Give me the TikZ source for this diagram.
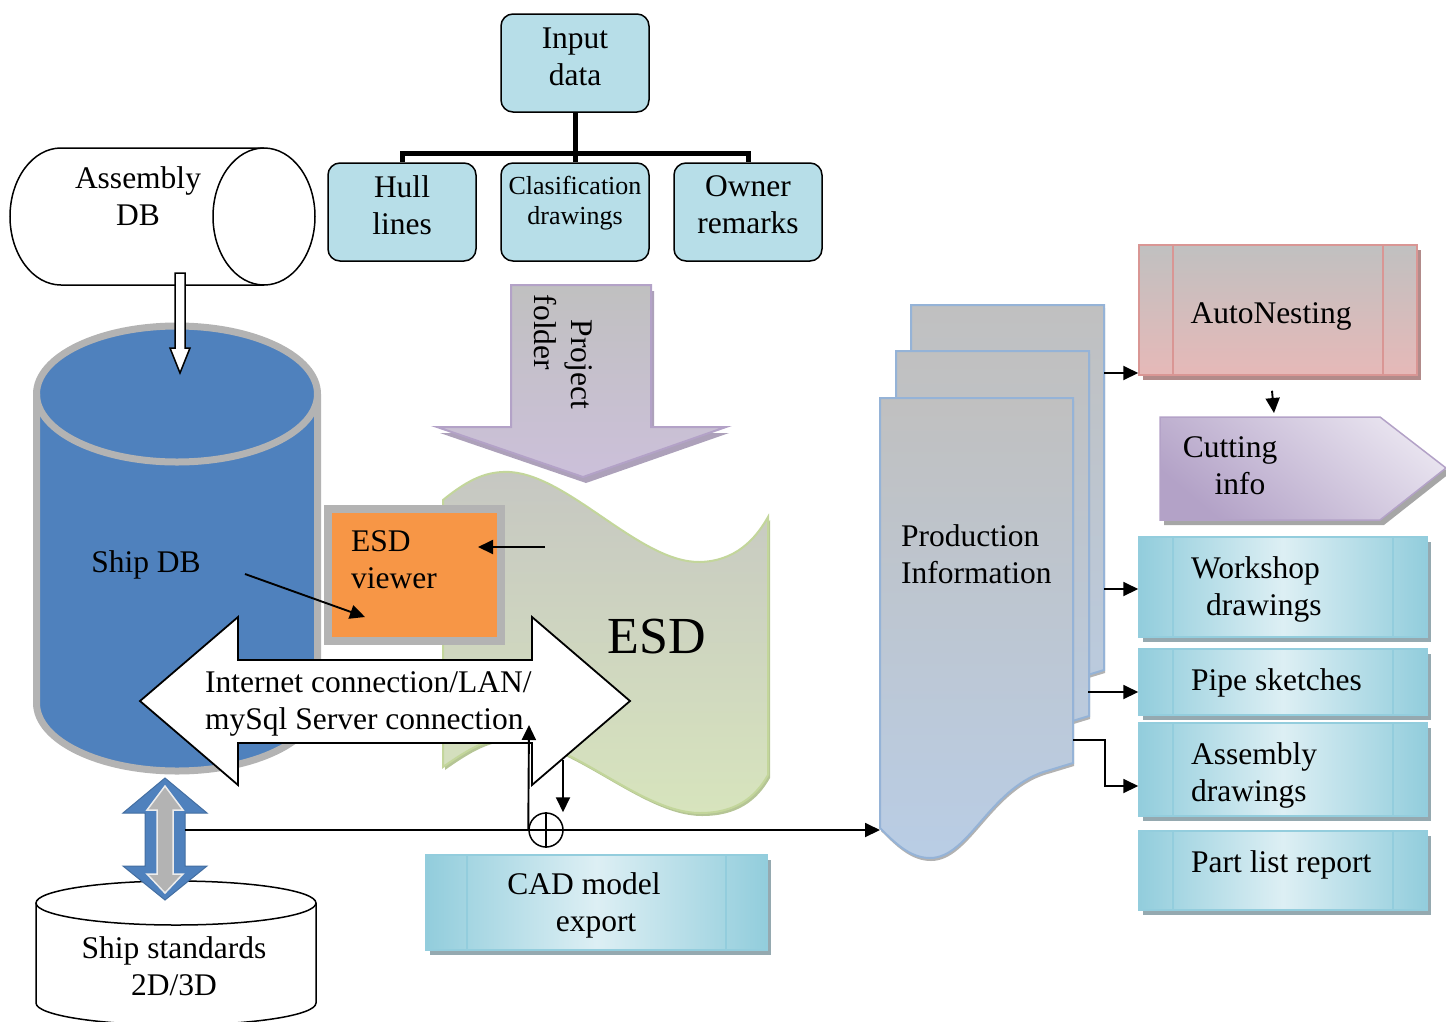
\documentclass[tikz,border=0pt]{standalone}
\usepackage{fontspec}
\setmainfont{Liberation Serif}
\usetikzlibrary{calc, positioning, arrows.meta, shadows}

% colours
\definecolor{inteal}{HTML}{B7DEE8}
\definecolor{tealdk}{HTML}{92CDDC}
\definecolor{teallt}{HTML}{DDEFF4}
\definecolor{tealedge}{HTML}{93CDDD}
\definecolor{boxshadow}{HTML}{95A9B0}
\definecolor{dbblue}{HTML}{4F81BD}
\definecolor{dbrim}{HTML}{B3B3B3}
\definecolor{vieworange}{HTML}{F79646}
\definecolor{viewshadow}{HTML}{C49A78}
\definecolor{lavdk}{HTML}{B3A2C7}
\definecolor{lavlt}{HTML}{E8E3EF}
\definecolor{foldtop}{HTML}{C0C0C0}
\definecolor{foldbot}{HTML}{CCC0DA}
\definecolor{esdtop}{HTML}{C6C7C2}
\definecolor{esdbot}{HTML}{D7E4BD}
\definecolor{esdedge}{HTML}{C3D69B}
\definecolor{pagetop}{HTML}{C0C0C0}
\definecolor{pagebot}{HTML}{B9CDE5}
\definecolor{pageedge}{HTML}{95B3D7}
\definecolor{pinktop}{HTML}{C0C0C0}
\definecolor{pinkbot}{HTML}{E6B9B8}
\definecolor{pinkedge}{HTML}{D99694}
\definecolor{pinkshadow}{HTML}{B28B8A}

\begin{document}
\begin{tikzpicture}[x=1pt, y=1pt,
    every node/.style={font=\fontsize{31.5}{37}\selectfont, inner sep=0pt},
    conn/.style={line width=1.9pt, -{Triangle[length=15pt, width=14pt]}},
    tree/.style={line width=5pt},
    inbox/.style={draw, line width=1.5pt, rounded corners=12pt, fill=inteal,
        minimum width=148pt, minimum height=98pt},
    proc line/.style={draw=tealedge, line width=1.5pt},
    procbox/.style={draw=tealedge, line width=1.5pt,
        left color=tealdk, right color=tealdk, middle color=teallt,
        path picture={\draw[proc line]
            ([xshift=#1]path picture bounding box.north west) -- ([xshift=#1]path picture bounding box.south west)
            ([xshift=-#1]path picture bounding box.north east) -- ([xshift=-#1]path picture bounding box.south east);}},
    procbox/.default=34,
    tealshadow/.style={drop shadow={shadow xshift=4pt, shadow yshift=-5pt, fill=boxshadow, opacity=1}},
    autobox/.style={procbox, top color=pinktop, bottom color=pinkbot, draw=pinkedge,
        proc line/.style={draw=pinkedge, line width=1.5pt},
        drop shadow={shadow xshift=4pt, shadow yshift=-5pt, fill=pinkshadow, opacity=1}},
    cutshape/.style={draw=lavdk, line width=1.5pt, top color=lavlt, bottom color=lavdk, shading angle=-40,
        drop shadow={shadow xshift=4pt, shadow yshift=-5pt, fill=gray!70, opacity=1}},
    rtext/.style={anchor=west, align=left},
    page/.style={draw=pageedge, line width=2pt, top color=pagetop, bottom color=pagebot,
        drop shadow={shadow xshift=1pt, shadow yshift=-3pt, fill=gray!60, opacity=1}},
    esdshape/.style={draw=esdedge, line width=2pt, top color=esdtop, bottom color=esdbot,
        drop shadow={shadow xshift=2pt, shadow yshift=-3pt, fill=esdedge!80!gray, opacity=1}},
    folder/.style={draw=lavdk, line width=2pt, top color=foldtop, bottom color=foldbot,
        drop shadow={shadow xshift=3pt, shadow yshift=-6pt, fill=lavdk!85!black, opacity=0.8}},
    viewbox/.style={fill=vieworange, draw=dbrim, line width=8pt,
        drop shadow={shadow xshift=4pt, shadow yshift=-4pt, fill=viewshadow, opacity=1}},
    bigarrow/.style={draw, line width=1.8pt, fill=white},
  ]
  \useasboundingbox (0,0) rectangle (1446,-1021);

  % Assembly DB (lying cylinder)
  \draw[line width=1.5pt, fill=white] (264,-148) -- (61,-148)
      arc[start angle=90, end angle=270, x radius=51, y radius=68.5] -- (264,-285);
  \draw[line width=1.5pt, fill=white] (264,-216.5) ellipse [x radius=51, y radius=68.5];
  \node[align=center] (asmdb) at (138,-196) {Assembly\\DB};

  % Ship DB
  \draw[line width=7pt, draw=dbrim, fill=dbblue] (36.5,-394) -- (36.5,-703)
      arc[start angle=180, end angle=360, x radius=140.5, y radius=68] -- (317.5,-394)
      arc[start angle=0, end angle=180, x radius=140.5, y radius=68] -- cycle;
  \draw[line width=7pt, draw=dbrim] (36.5,-394) arc[start angle=180, end angle=360, x radius=140.5, y radius=68];
  \node (shipdb) at (146,-565) {Ship DB};

  % Assembly DB -> Ship DB
  \coordinate (asm-out) at (180,-273);
  \coordinate (ship-in) at (180,-373);
  \draw[line width=1.5pt, fill=white] ($(asm-out)+(-5,0)$) -- ($(ship-in)+(-5,25)$) -- ++(-5,0)
      -- (ship-in) -- ($(ship-in)+(10,25)$) -- ++(-5,0) -- ($(asm-out)+(5,0)$) -- cycle;

  % input data tree
  \node[inbox] (input) at (575,-63) {};
  \node[inbox] (hull) at (402,-212) {};
  \node[inbox] (clas) at (575,-212) {};
  \node[inbox] (owner) at (748,-212) {};
  \node[align=center] (input-t) at ([yshift=6]input.center) {Input\\data};
  \node[align=center] (hull-t) at ([yshift=7]hull.center) {Hull\\lines};
  \node[align=center, font=\fontsize{26}{30}\selectfont] (clas-t) at ([yshift=9]clas.center) {Clasification\\drawings};
  \node[align=center] (owner-t) at ([yshift=7]owner.center) {Owner\\remarks};
  \draw[tree] (input.south) -- (clas.north);
  \draw[tree] (input.south) -- ++(0,-41) -| (hull.north);
  \draw[tree] (input.south) -- ++(0,-41) -| (owner.north);

  % ESD
  \path[esdshape] (443,-500) .. controls (470,-478) and (488,-471) .. (510,-472)
      .. controls (570,-476) and (640,-563) .. (700,-562)
      .. controls (735,-561) and (755,-540) .. (768,-517) -- (768,-775)
      .. controls (755,-798) and (735,-813) .. (700,-813)
      .. controls (640,-813) and (570,-738) .. (510,-738)
      .. controls (488,-738) and (470,-748) .. (443,-767) -- cycle;
  \node[font=\fontsize{52}{60}\selectfont] (esd) at (657,-637) {ESD};

  % Project folder
  \path[folder] (511,-285) -- (651,-285) -- (651,-427) -- (726,-427) -- (583,-477)
      -- (437,-427) -- (511,-427) -- cycle;
  \node[rotate=-90, align=left] (folder-t) at (563,-352) {\hspace*{25pt}Project\\folder};

  % ESD viewer
  \node[viewbox, minimum width=173, minimum height=132] (view) at (414.5,-575) {};
  \node[rtext] (view-t) at (351,-560) {ESD\\viewer};
  \coordinate (esd-out) at (545,-547);
  \coordinate (view-in) at (478,-547);
  \draw[conn] (esd-out) -- (view-in);
  \coordinate (ship-v) at (245,-574);
  \coordinate (view-dn) at (365,-617);
  \draw[conn] (ship-v) -- (view-dn);

  % Internet / LAN link
  \coordinate (link-l) at (140,-701);
  \coordinate (link-r) at (630,-701);
  \draw[bigarrow] (link-l) -- ++(98,84) -- ++(0,-43) -- ($(link-r)+(-98,41)$) -- ++(0,43)
      -- (link-r) -- ++(-98,-84) -- ++(0,42) -- ($(link-l)+(98,-42)$) -- ++(0,-42) -- cycle;
  \node[rtext] (link-t) at (205,-704) {Internet connection/LAN/\\mySql Server connection};

  % Ship standards
  \draw[line width=1.5pt, fill=white] (36,-903) -- (36,-1003)
      arc[start angle=180, end angle=360, x radius=140, y radius=22] -- (316,-903);
  \draw[line width=1.5pt, fill=white] (176,-903) ellipse [x radius=140, y radius=22];
  \node[align=center] (std) at (174,-966) {Ship standards\\2D/3D};

  % Ship DB <-> Ship standards
  \coordinate (ship-out) at (165,-778);
  \coordinate (std-in) at (165,-900);
  \draw[fill=dbblue, draw=dbblue!85!black, line width=1pt] (ship-out) -- ++(42,-35) -- ++(-22,0)
      -- ($(std-in)+(20,34)$) -- ++(22,0) -- (std-in) -- ++(-42,34) -- ++(22,0)
      -- ($(ship-out)+(-20,-35)$) -- ++(-22,0) -- cycle;
  \draw[fill=dbrim, draw=white!85!gray, line width=1.5pt] ($(ship-out)+(0,-8)$) -- ++(18,-24) -- ++(-10,0)
      -- ($(std-in)+(8,26)$) -- ++(10,0) -- ($(std-in)+(0,7)$) -- ++(-18,19) -- ++(10,0)
      -- ($(ship-out)+(-8,-32)$) -- ++(-10,0) -- cycle;

  % export line
  \node[circle, draw, line width=1.5pt, minimum size=34pt] (mix) at (546,-830) {};
  \draw[line width=1.5pt] (mix.north) -- (mix.south);
  \coordinate (std-link) at (185,-830);
  \coordinate (pi-in) at (880,-830);
  \draw[conn] (std-link) -- (pi-in);
  \coordinate (link-up) at (529,-725);
  \draw[conn] (mix.west) -- (link-up);
  \coordinate (link-dn) at (563,-760);
  \draw[conn] (link-dn) -- (link-dn |- mix.north);

  % CAD model export
  \node[procbox=41, tealshadow, minimum width=341, minimum height=95] (cad) at (596.5,-902.5) {};
  \node[align=center] (cad-t) at (584,-905) {CAD model\\\hspace*{24pt}export};

  % Production information
  \foreach \dx/\dy in {31/93, 16/47, 0/0} {
    \path[page, shift={(\dx,\dy)}] (880,-398) -- (1073,-398) -- (1073,-763) -- (1050,-770)
        .. controls (990,-785) and (970,-858) .. (930,-858)
        .. controls (910,-858) and (895,-843) .. (880,-828) -- cycle;
  }
  \node[rtext] (prod) at (901,-554) {Production\\Information};

  % outputs
  \node[autobox, minimum width=278, minimum height=130] (auto) at (1278,-310) {};
  \node (auto-t) at (1271,-316) {AutoNesting};
  \path[cutshape] (1160,-417) -- (1380,-417) -- (1446,-468) -- (1380,-520) -- (1160,-520) -- cycle;
  \node[align=center] (cut-t) at (1230,-466) {Cutting\\\hspace*{20pt}info};
  \node[procbox, tealshadow, minimum width=288, minimum height=100] (work) at (1283,-587) {};
  \node[rtext] (work-t) at (1191,-589) {Workshop\\\hspace*{15pt}drawings};
  \node[procbox, tealshadow, minimum width=288, minimum height=66] (pipe) at (1283,-682) {};
  \node[rtext] (pipe-t) at (1191,-683) {Pipe sketches};
  \node[procbox, tealshadow, minimum width=288, minimum height=93] (asmdr) at (1283,-769.5) {};
  \node[rtext] (asmdr-t) at (1191,-775) {Assembly\\drawings};
  \node[procbox, tealshadow, minimum width=288, minimum height=79] (parts) at (1283,-870.5) {};
  \node[rtext] (parts-t) at (1191,-865) {Part list report};

  \coordinate (pi-auto) at (1104,-373);
  \coordinate (pi-work) at (1104,-589);
  \coordinate (pi-pipe) at (1088,-692);
  \coordinate (pi-asm) at (1073,-740);
  \coordinate (cut-top) at (1274,-413);
  \draw[conn] (pi-auto) -- (pi-auto -| auto.west);
  \draw[conn] ([xshift=-6,yshift=-15]auto.south) -- (cut-top);
  \draw[conn] (pi-work) -- (pi-work -| work.west);
  \draw[conn] (pi-pipe) -- (pi-pipe -| pipe.west);
  \draw[conn] (pi-asm) -- ++(32,0) |- ([yshift=-16.5]asmdr.west);
\end{tikzpicture}
\end{document}
